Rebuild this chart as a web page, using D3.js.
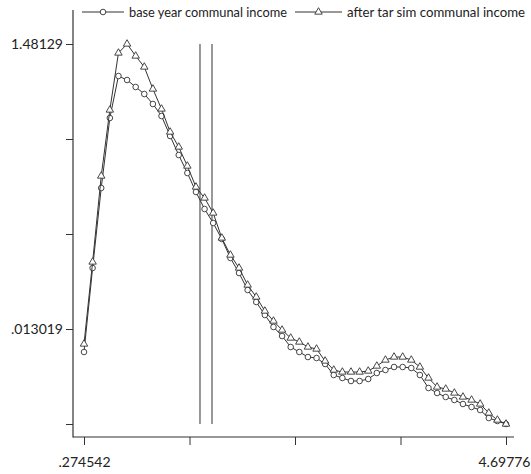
<!DOCTYPE html>
<html>
<head>
<meta charset="utf-8">
<script src="https://cdn.jsdelivr.net/npm/d3@7"></script>
<style>
  body { margin: 0; background: #fff; }
  text { font-family: "Lato", "Open Sans", sans-serif; fill: #222; }
</style>
</head>
<body>
<script>
// kernel density estimates, 50 evaluation points
var xPoints = [
  0.2745, 0.3648, 0.4551, 0.5454, 0.6356, 0.7259, 0.8162, 0.9064, 0.9967, 1.0870,
  1.1773, 1.2675, 1.3578, 1.4481, 1.5383, 1.6286, 1.7189, 1.8092, 1.8994, 1.9897,
  2.0800, 2.1702, 2.2605, 2.3508, 2.4410, 2.5313, 2.6216, 2.7119, 2.8021, 2.8924,
  2.9827, 3.0729, 3.1632, 3.2535, 3.3437, 3.4340, 3.5243, 3.6146, 3.7048, 3.7951,
  3.8854, 3.9756, 4.0659, 4.1562, 4.2465, 4.3367, 4.4270, 4.5173, 4.6075, 4.6978];

var baseYear = [
  -0.1055, 0.3273, 0.7394, 1.1001, 1.3164, 1.2958, 1.2598, 1.2237, 1.1722, 1.1103,
  1.0073, 0.9094, 0.8167, 0.7188, 0.6312, 0.5591, 0.4767, 0.3788, 0.3015, 0.2139,
  0.1521, 0.0851, 0.0233, -0.0231, -0.0798, -0.1055, -0.1313, -0.1365, -0.1674, -0.2240,
  -0.2395, -0.2549, -0.2549, -0.2446, -0.2137, -0.1983, -0.1828, -0.1828, -0.1880, -0.2240,
  -0.2910, -0.3167, -0.3373, -0.3528, -0.3734, -0.3889, -0.4043, -0.4456, -0.4610, -0.4765];

var afterSim = [
  -0.0643, 0.3582, 0.8012, 1.1413, 1.4349, 1.4813, 1.4195, 1.3628, 1.2495, 1.1464,
  1.0279, 0.9506, 0.8527, 0.7446, 0.6879, 0.6106, 0.4818, 0.3942, 0.3273, 0.2397,
  0.1778, 0.1057, 0.0542, 0.0078, -0.0334, -0.0540, -0.0798, -0.0901, -0.1519, -0.1983,
  -0.2086, -0.2086, -0.2086, -0.2034, -0.1777, -0.1468, -0.1313, -0.1313, -0.1468, -0.1828,
  -0.2395, -0.2858, -0.2961, -0.3167, -0.3373, -0.3528, -0.3734, -0.4198, -0.4559, -0.4765];

var seriesNames = ["base year communal income", "after tar sim communal income"];

var xTicks = [0.274542, 1.380347, 2.486152, 3.591957, 4.69776];
var xTickLabels = [".274542", "", "", "", "4.69776"];
var yTicks = [1.48129, 0.991872, 0.502455, 0.013019, -0.476398];
var yTickLabels = ["1.48129", "", "", ".013019", ""];

// reference lines
var refLines = [1.4904, 1.6163];

var width = 531, height = 474;
var svg = d3.select("body").append("svg")
    .attr("width", width)
    .attr("height", height);

var xScale = d3.scaleLinear()
    .domain([0.274542, 4.69776])
    .range([84, 506]);

var yScale = d3.scaleLinear()
    .domain([1.48129, 0.013019])
    .range([44, 329]);

var ink = "#333";

// axes
var yAxis = d3.axisLeft(yScale)
    .tickValues(yTicks)
    .tickSize(7)
    .tickFormat(function(d, i) { return yTickLabels[i]; });

var gy = svg.append("g")
    .attr("transform", "translate(73,0)")
    .call(yAxis);
gy.select(".domain").remove();
gy.selectAll("line").attr("stroke", ink);
gy.selectAll("text").attr("font-size", 14).attr("x", -10);

var xAxis = d3.axisBottom(xScale)
    .tickValues(xTicks)
    .tickSize(8)
    .tickFormat(function(d, i) { return xTickLabels[i]; });

var gx = svg.append("g")
    .attr("transform", "translate(0,437)")
    .call(xAxis);
gx.select(".domain").remove();
gx.selectAll("line").attr("stroke", ink);
gx.selectAll("text").attr("font-size", 14).attr("y", 20).attr("dy", "0.71em");
// keep the last label inside the picture, as in the original
gx.selectAll("text").filter(function(d, i) { return i == xTicks.length - 1; })
    .attr("text-anchor", "end").attr("x", 24);

svg.append("line")
    .attr("x1", 73).attr("x2", 73)
    .attr("y1", 10).attr("y2", 437.5)
    .attr("stroke", ink).attr("stroke-width", 1.2);
svg.append("line")
    .attr("x1", 73).attr("x2", 514)
    .attr("y1", 437).attr("y2", 437)
    .attr("stroke", ink).attr("stroke-width", 1.2);

// vertical reference lines
svg.selectAll(".ref").data(refLines).enter()
    .append("line")
    .attr("class", "ref")
    .attr("x1", function(d) { return xScale(d); })
    .attr("x2", function(d) { return xScale(d); })
    .attr("y1", yScale(yTicks[0]))
    .attr("y2", yScale(yTicks[4]))
    .attr("stroke", ink)
    .attr("stroke-width", 1);

var line = d3.line()
    .x(function(d) { return xScale(d[0]); })
    .y(function(d) { return yScale(d[1]); });

var triangle = d3.symbol().type(d3.symbolTriangle).size(24);

function drawSeries(values, kind) {
    var pts = xPoints.map(function(x, i) { return [x, values[i]]; });
    svg.append("path")
        .datum(pts)
        .attr("d", line)
        .attr("fill", "none")
        .attr("stroke", ink)
        .attr("stroke-width", 1);
    var g = svg.append("g");
    if (kind == "circle") {
        g.selectAll("circle").data(pts).enter()
            .append("circle")
            .attr("cx", function(d) { return xScale(d[0]); })
            .attr("cy", function(d) { return yScale(d[1]); })
            .attr("r", 2.8)
            .attr("fill", "#fff")
            .attr("stroke", ink)
            .attr("stroke-width", 0.9);
    } else {
        g.selectAll("path").data(pts).enter()
            .append("path")
            .attr("d", triangle)
            .attr("transform", function(d) {
                return "translate(" + xScale(d[0]) + "," + yScale(d[1]) + ")";
            })
            .attr("fill", "#fff")
            .attr("stroke", ink)
            .attr("stroke-width", 0.9);
    }
}

drawSeries(baseYear, "circle");
drawSeries(afterSim, "triangle");

// legend
var legend = svg.append("g").attr("transform", "translate(0,12)");
var legendItems = [
    {x0: 82, x1: 124, w: 158, name: seriesNames[0], kind: "circle"},
    {x0: 295, x1: 342, w: 178, name: seriesNames[1], kind: "triangle"}
];
legendItems.forEach(function(item) {
    legend.append("line")
        .attr("x1", item.x0).attr("x2", item.x1)
        .attr("y1", 0).attr("y2", 0)
        .attr("stroke", ink);
    var mid = (item.x0 + item.x1) / 2;
    if (item.kind == "circle") {
        legend.append("circle")
            .attr("cx", mid).attr("cy", 0).attr("r", 2.8)
            .attr("fill", "#fff").attr("stroke", ink).attr("stroke-width", 0.9);
    } else {
        legend.append("path")
            .attr("d", triangle)
            .attr("transform", "translate(" + mid + ",0)")
            .attr("fill", "#fff").attr("stroke", ink).attr("stroke-width", 0.9);
    }
    legend.append("text")
        .attr("x", item.x1 + 5)
        .attr("y", 0)
        .attr("dy", "0.35em")
        .attr("font-size", 13.5)
        .attr("textLength", item.w)
        .attr("lengthAdjust", "spacingAndGlyphs")
        .text(item.name);
});
</script>
</body>
</html>
